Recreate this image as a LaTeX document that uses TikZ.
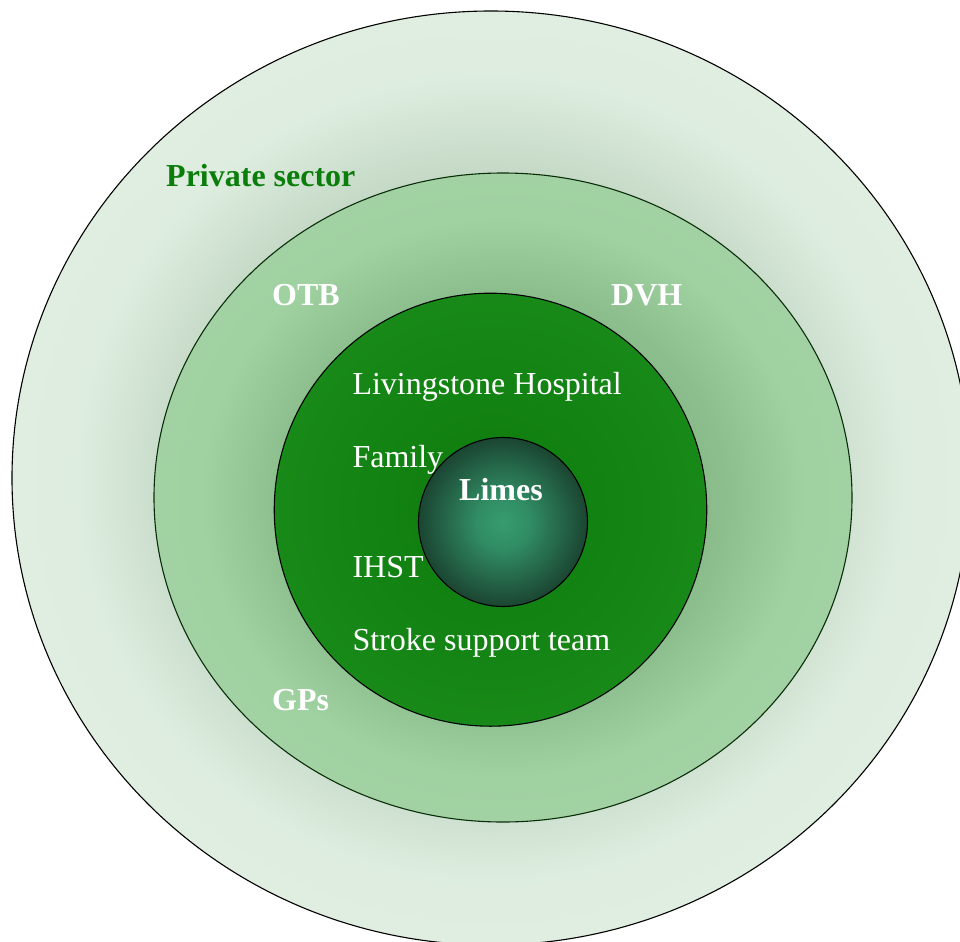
\documentclass[tikz,border=0pt]{standalone}
\usepackage{fontspec}
\setmainfont{Liberation Serif}
\usetikzlibrary{shapes.geometric}
\pgfdeclareradialshading{ringA}{\pgfpoint{0bp}{0bp}}{rgb(0bp)=(0.60,0.70,0.60); rgb(16.5bp)=(0.775,0.853,0.78); rgb(21.5bp)=(0.868,0.928,0.873); rgb(25bp)=(0.875,0.933,0.88); rgb(50bp)=(0.875,0.933,0.88)}
\pgfdeclareradialshading{ringB}{\pgfpoint{0bp}{0bp}}{rgb(0bp)=(0.44,0.62,0.44); rgb(16bp)=(0.55,0.745,0.555); rgb(21.5bp)=(0.625,0.818,0.63); rgb(25bp)=(0.635,0.825,0.64); rgb(50bp)=(0.635,0.825,0.64)}
\pgfdeclareradialshading{ringC}{\pgfpoint{0bp}{0bp}}{rgb(0bp)=(0.055,0.48,0.055); rgb(12bp)=(0.07,0.51,0.07); rgb(25bp)=(0.094,0.54,0.094); rgb(50bp)=(0.094,0.54,0.094)}
\pgfdeclareradialshading{coreD}{\pgfpoint{0bp}{0bp}}{rgb(0bp)=(0.215,0.61,0.435); rgb(8bp)=(0.19,0.55,0.39); rgb(25bp)=(0.105,0.27,0.195); rgb(50bp)=(0.105,0.27,0.195)}
\definecolor{privgreen}{RGB}{10,125,10}
\definecolor{ringline}{RGB}{10,45,10}
\begin{document}
\begin{tikzpicture}[x=1bp,y=-1bp,
  ring/.style={ellipse, inner sep=0pt, outer sep=0pt, line width=1.1bp},
  lbl/.style={anchor=base west, inner sep=0pt, text=white, font=\fontsize{32bp}{38bp}\selectfont},
  blbl/.style={lbl, font=\fontsize{32bp}{38bp}\selectfont\bfseries}]
\useasboundingbox (0,0) rectangle (960,942);
\clip (0,0) rectangle (960,942);
\node[ring, draw=black, shading=ringA, minimum width=958bp, minimum height=934bp] (outer) at (491,478) {};
\node[ring, draw=ringline, shading=ringB, minimum width=698bp, minimum height=649bp] (second) at (503,497.5) {};
\node[ring, draw=black, shading=ringC, minimum width=432.5bp, minimum height=433bp] (third) at (490.5,509.7) {};
\node[ring, draw=black, shading=coreD, minimum width=169bp, minimum height=169bp] (core) at (503,522) {};
\node[blbl, text=privgreen] (priv) at (166,186) {Private sector};
\node[blbl] (otb) at (272,305.5) {OTB};
\node[blbl] (dvh) at (611,305.5) {DVH};
\node[blbl] (gps) at (272,710.5) {GPs};
\node[lbl] (liv) at (352.3,394) {Livingstone Hospital};
\node[lbl] (fam) at (352.3,467) {Family};
\node[blbl] (limes) at (459,500.5) {Limes};
\node[lbl] (ihst) at (352.3,577.3) {IHST};
\node[lbl] (sst) at (352.3,650.7) {Stroke support team};
\end{tikzpicture}
\end{document}
